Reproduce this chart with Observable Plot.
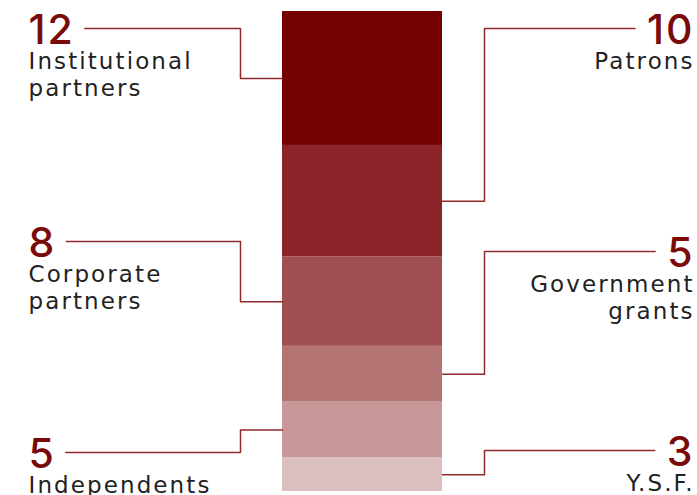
<!DOCTYPE html>
<html><head><meta charset="utf-8">
<script src="https://cdn.jsdelivr.net/npm/d3@7"></script>
<script src="https://cdn.jsdelivr.net/npm/@observablehq/plot@0.6"></script>
<style>
html,body{margin:0;padding:0;background:#fff;}
#chart svg{display:block;}
</style></head><body><div id="chart"></div>
<script>
// ---- data ----
const categories = ["Institutional partners","Patrons","Corporate partners","Government grants","Independents","Y.S.F."];
const labels = ["Institutional\npartners","Patrons","Corporate\npartners","Government\ngrants","Independents","Y.S.F."];
const values = [12, 10, 8, 5, 5, 3];
const sides = ["left","right","left","right","left","right"];
const colors = ["#740000","#8a2428","#a04f50","#b57474","#c89797","#dcbfbf"];
// ---- layout (pixels) ----
const labelRows = [28, 28, 241, 251, 452, 450];
const W = 697, H = 495;
const L = {barLeft:282, barRight:442, elbow:42, textLeft:28, textRight:692, gap:12, top:11, bottom:491,
           numSize:41, numLS:2, labelSize:23, labelLS:2.1, labelOffset:21.5, lineHeight:1.18,
           numFont:"Inter, sans-serif", labelFont:"'DejaVu Sans', sans-serif"};
const numColor = "#7a0a0a", lineColor = "#912a2a", textColor = "#222";

const total = d3.sum(values);
const yPix = d3.scaleLinear().domain([0, total]).range([L.top, L.bottom]);
const ends = d3.cumsum(values);
const ctx = document.createElement("canvas").getContext("2d");
ctx.font = `500 ${L.numSize}px Inter`;
const data = categories.map((c, i) => ({
  category: c, label: labels[i], value: values[i], side: sides[i], color: colors[i],
  y1: ends[i] - values[i], y2: ends[i], mid: ends[i] - values[i] / 2,
  row: yPix.invert(labelRows[i]), labelRow: yPix.invert(labelRows[i] + L.labelOffset),
  numW: ctx.measureText(String(values[i])).width + L.numLS * (String(values[i]).length - 1)
}));
const leaders = data.flatMap(d => {
  const pts = d.side === "left"
    ? [[L.textLeft + d.numW + L.gap, d.row], [L.barLeft - L.elbow, d.row], [L.barLeft - L.elbow, d.mid], [L.barLeft, d.mid]]
    : [[L.barRight, d.mid], [L.barRight + L.elbow, d.mid], [L.barRight + L.elbow, d.row], [L.textRight - d.numW - L.gap, d.row]];
  return pts.map(([x, y]) => ({category: d.category, x, y}));
});
const left = data.filter(d => d.side === "left"), right = data.filter(d => d.side === "right");

const chart = Plot.plot({
  width: W, height: H, margin: 0,
  style: {fontFamily: L.numFont, background: "#fff"},
  x: {type: "linear", domain: [0, W], range: [0, W], axis: null},
  y: {type: "linear", domain: [0, total], range: [L.top, L.bottom], axis: null},
  marks: [
    Plot.rect(data, {x1: L.barLeft, x2: L.barRight, y1: "y1", y2: "y2", fill: "color"}),
    Plot.line(leaders, {x: "x", y: "y", z: "category", stroke: lineColor, strokeWidth: 1.5, curve: "linear"}),
    Plot.text(left, {x: L.textLeft, y: "row", dy: 2, text: d => String(d.value), textAnchor: "start", lineAnchor: "middle",
      fontSize: L.numSize, fontWeight: 500, fill: numColor}),
    Plot.text(right, {x: L.textRight + L.numLS, y: "row", dy: 2, text: d => String(d.value), textAnchor: "end", lineAnchor: "middle",
      fontSize: L.numSize, fontWeight: 500, fill: numColor}),
    Plot.text(left, {x: L.textLeft, y: "labelRow", text: "label", textAnchor: "start", lineAnchor: "top",
      fontSize: L.labelSize, fontFamily: L.labelFont, lineHeight: L.lineHeight, fill: textColor}),
    Plot.text(right, {x: L.textRight + L.labelLS, y: "labelRow", text: "label", textAnchor: "end", lineAnchor: "top",
      fontSize: L.labelSize, fontFamily: L.labelFont, lineHeight: L.lineHeight, fill: textColor})
  ]
});
const textGroups = chart.querySelectorAll("g[aria-label='text']");
textGroups.forEach((g, i) => g.setAttribute("letter-spacing", i < 2 ? L.numLS : L.labelLS));
document.getElementById("chart").append(chart);
</script></body></html>
